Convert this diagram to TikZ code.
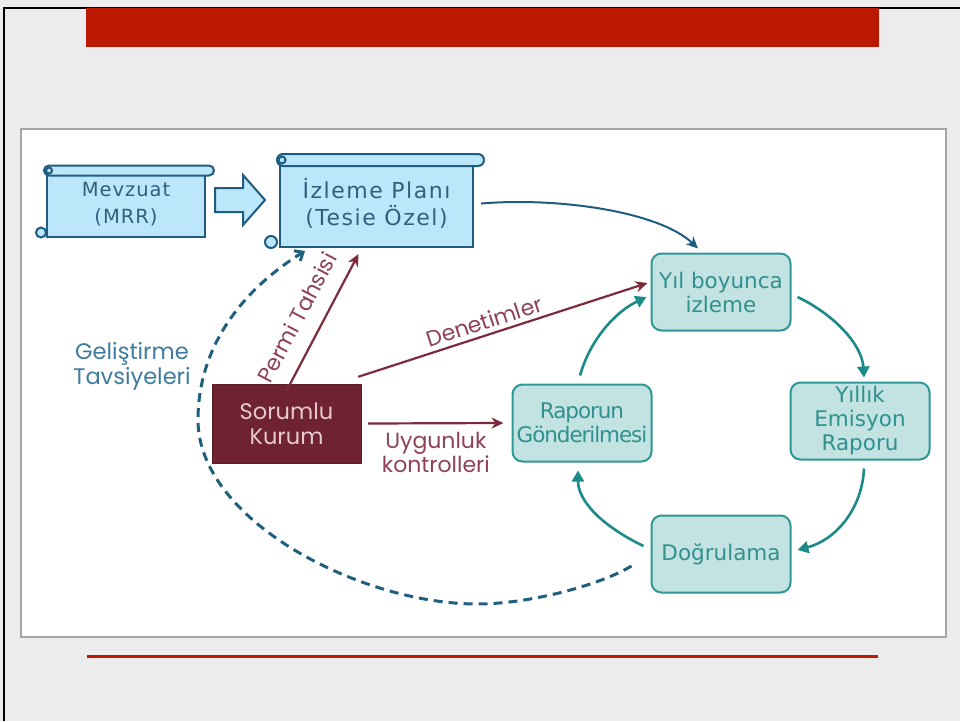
\documentclass[tikz,border=0pt]{standalone}
\usepackage{fontspec}
\setmainfont{DejaVu Sans}
\newfontfamily\geofont{Poppins}
\newfontfamily\mevfont{DejaVu Sans}[LetterSpace=5]
\newfontfamily\planfont{DejaVu Sans}[LetterSpace=7]
\newfontfamily\tightfont{DejaVu Sans}[LetterSpace=-5]
\usetikzlibrary{arrows.meta}

\definecolor{slidegray}{HTML}{ECECEC}
\definecolor{slidered}{HTML}{BC1A00}
\definecolor{scrollfill}{HTML}{BCE6F9}
\definecolor{scrollline}{HTML}{1E5D80}
\definecolor{scrolltext}{HTML}{2F617F}
\definecolor{tealfill}{HTML}{C2E3E2}
\definecolor{tealline}{HTML}{2E9896}
\definecolor{tealtext}{HTML}{30908E}
\definecolor{tealarrow}{HTML}{1B8A88}
\definecolor{kurumfill}{HTML}{6F2332}
\definecolor{kurumtext}{HTML}{E6CACD}
\definecolor{maroonline}{HTML}{7B2B3B}
\definecolor{maroontext}{HTML}{8E4255}
\definecolor{dashblue}{HTML}{205F7E}
\definecolor{labelblue}{HTML}{3C7C9E}

\begin{document}
\begin{tikzpicture}[x=1pt,y=-1pt,
  scroll/.style={draw=scrollline, fill=scrollfill, line width=2pt, text=scrolltext, align=center, inner sep=0pt},
  stage/.style={draw=tealline, fill=tealfill, line width=2pt, rounded corners=10pt, minimum width=139pt, minimum height=77pt,
    inner sep=0pt, align=center, text=tealtext, font=\fontsize{21.5}{24}\selectfont},
  cyclearrow/.style={tealarrow, line width=2.6pt, -{Triangle[length=11pt,width=12pt]}},
  redarrow/.style={maroonline, line width=2.2pt, -{Stealth[length=12pt,width=11pt]}},
  redlabel/.style={text=maroontext, font=\geofont\fontsize{22}{24}\selectfont, align=center}]
\useasboundingbox (0,0) rectangle (960,721);

% slide
\fill[slidegray] (0,0) rectangle (960,721);
\draw[black, line width=2pt] (4,721) -- (4,8) -- (960,8);
\fill[slidered] (86,8) rectangle (879,47);
\draw[gray!70, fill=white, line width=2pt] (21,129) rectangle (946,637);
\draw[slidered, line width=3pt] (87,656) -- (878,656);

% scrolls
\node[scroll, minimum width=158pt, minimum height=65pt, font=\mevfont\fontsize{19.5}{27}\selectfont] (mevzuat) at (126,204) {Mevzuat\\(MRR)};
\draw[scroll, rounded corners=5pt] ([shift={(-2,-5)}]mevzuat.north west) rectangle ([shift={(8,5)}]mevzuat.north east);
\draw[scroll] ([shift={(3,0)}]mevzuat.north west) circle (3);
\draw[scroll] ([shift={(-5,-5)}]mevzuat.south west) circle (5);

\node[scroll, minimum width=193pt, minimum height=87pt, font=\planfont\fontsize{22}{27}\selectfont] (plan) at (376.5,203.5) {İzleme Planı\\(Tesie Özel)};
\draw[scroll, rounded corners=6pt] ([shift={(-2,-5)}]plan.north west) rectangle ([shift={(10,7)}]plan.north east);
\draw[scroll] ([shift={(3,1)}]plan.north west) circle (3.5);
\draw[scroll] ([shift={(-8,-6)}]plan.south west) circle (6);

% block arrow
\draw[scroll] (215,188) -- (243,188) -- (243,175) -- (265,200) -- (243,225) -- (243,212) -- (215,212) -- cycle;

% monitoring cycle
\node[stage] (yil) at (721,292) {Yıl boyunca\\izleme};
\node[stage] (yillik) at (860,421) {Yıllık\\Emisyon\\Raporu};
\node[stage] (dog) at (721,554) {Doğrulama};
\node[stage, font=\tightfont\fontsize{21.5}{24}\selectfont] (rapor) at (582,423) {Raporun\\Gönderilmesi};

\draw[cyclearrow] ([shift={(6,5)}]yil.east) .. controls (835,315) and (862,345) .. ([shift={(4,-4)}]yillik.north);
\draw[cyclearrow] ([shift={(4,8)}]yillik.south) .. controls (862,510) and (835,540) .. ([shift={(6,-4)}]dog.east);
\draw[cyclearrow] ([shift={(-7,-8)}]dog.west) .. controls (600,525) and (578,500) .. ([shift={(-4,8)}]rapor.south);
\draw[cyclearrow] ([shift={(-2,-8)}]rapor.north) .. controls (590,340) and (615,312) .. ([shift={(-4,5)}]yil.west);

\draw[scrollline, line width=2pt, -{Stealth[length=12pt,width=11pt]}] ([xshift=7]plan.east) .. controls (560,197) and (660,212) .. ([shift={(-23,-4)}]yil.north);

% authority
\node[fill=kurumfill, draw=kurumfill!80!black, minimum width=149pt, minimum height=79pt, inner sep=0pt, align=center,
  text=kurumtext, font=\geofont\fontsize{22.5}{25}\selectfont] (kurum) at (286.5,423.5) {Sorumlu\\Kurum};

\draw[redarrow] ([yshift=-7]kurum.north) -- node[redlabel, sloped, above=12pt, pos=.45] (tahsis) {Permi Tahsisi} ([shift={(-18,6)}]plan.south);
\draw[redarrow] ([shift={(-3,-7)}]kurum.north east) -- node[redlabel, sloped, above=1pt, pos=.45] (denetim) {Denetimler} ([shift={(-3,-9)}]yil.west);
\draw[redarrow] ([xshift=7]kurum.east) -- node[redlabel, below=5pt] (uygun) {Uygunluk\\kontrolleri} ([xshift=-8]rapor.west);

% feedback
\node[text=labelblue, font=\geofont\fontsize{22.5}{25}\selectfont, align=center] (gelistirme) at (132,366) {Geliştirme\\Tavsiyeleri};
\draw[dashblue, line width=3pt, dash pattern=on 9pt off 6pt, -{Straight Barb[length=7pt,width=12pt]}]
  ([shift={(-19,12)}]dog.west) .. controls (600,585) and (530,604) .. (477,604)
  .. controls (360,604) and (198,520) .. (198,420)
  .. controls (198,340) and (250,285) .. ([shift={(26,3)}]plan.south west);
\end{tikzpicture}
\end{document}
